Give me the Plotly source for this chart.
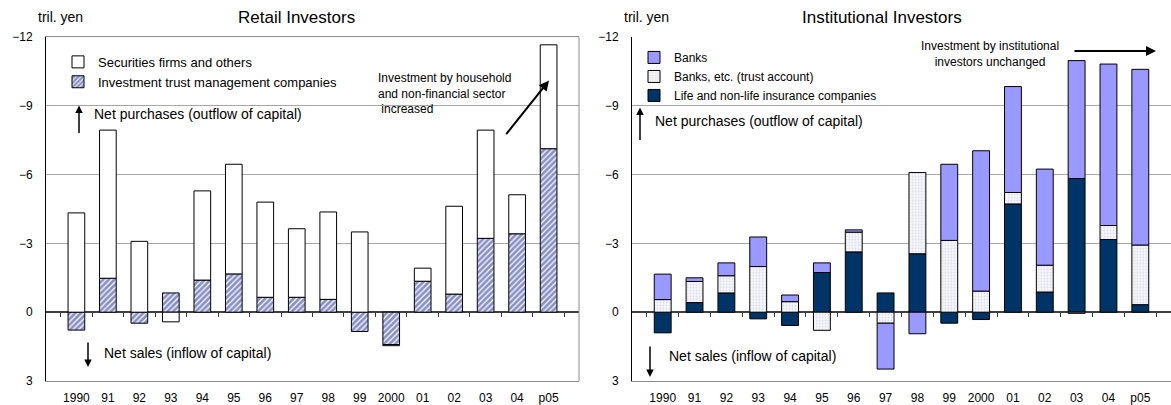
import plotly.graph_objects as go

years = ["1990", "91", "92", "93", "94", "95", "96", "97", "98", "99", "2000", "01", "02", "03", "04", "p05"]

# Retail investors (tril. yen; negative = net purchases)
trust_mgmt = [0.78, -1.48, 0.48, -0.84, -1.40, -1.67, -0.65, -0.65, -0.56, 0.84, 1.41, -1.35, -0.79, -3.22, -3.42, -7.13]
securities = [-4.33, -6.46, -3.09, 0.42, -3.89, -4.78, -4.15, -2.99, -3.81, -3.50, 0.05, -0.57, -3.83, -4.72, -1.70, -4.53]

# Institutional investors
insurance = [0.90, -0.42, -0.84, 0.29, 0.58, -1.73, -2.63, -0.84, -2.55, 0.48, 0.32, -4.72, -0.88, -5.83, -3.17, -0.33]
trust_acct = [-0.55, -0.92, -0.75, -1.99, -0.46, 0.79, -0.86, 0.48, -3.54, -3.13, -0.92, -0.50, -1.17, 0.05, -0.61, -2.60]
banks = [-1.11, -0.16, -0.56, -1.29, -0.29, -0.42, -0.10, 2.00, 0.94, -3.32, -6.12, -4.62, -4.19, -5.14, -7.04, -7.66]

y_ticks = [-12, -9, -6, -3, 0, 3]

W, H = 1171, 405
MT, MB = 37, 21
PH = H - MT - MB

def px(x):
    return x / W

def py(y):
    return (H - MB - y) / PH

FONT = "Liberation Sans, Arial, sans-serif"
fig = go.Figure()

line = dict(color="black", width=1)

fig.add_trace(go.Bar(x=years, y=trust_mgmt, name="Investment trust management companies",
                     marker=dict(color="white", line=line,
                                 pattern=dict(shape="/", fgcolor="#10208c", bgcolor="white", size=4, solidity=0.7)),
                     xaxis="x", yaxis="y", legend="legend"))
fig.add_trace(go.Bar(x=years, y=securities, name="Securities firms and others",
                     marker=dict(color="white", line=line), xaxis="x", yaxis="y", legend="legend"))

fig.add_trace(go.Bar(x=years, y=insurance, name="Life and non-life insurance companies",
                     marker=dict(color="#003366", line=line), xaxis="x2", yaxis="y2", legend="legend2"))
fig.add_trace(go.Bar(x=years, y=trust_acct, name="Banks, etc. (trust account)",
                     marker=dict(color="#f4f4fa", line=line,
                                 pattern=dict(shape=".", fgcolor="#c4c4d8", bgcolor="#f6f6fb", size=3, solidity=0.3)),
                     xaxis="x2", yaxis="y2", legend="legend2"))
fig.add_trace(go.Bar(x=years, y=banks, name="Banks",
                     marker=dict(color="#9999ff", line=line), xaxis="x2", yaxis="y2", legend="legend2"))

# invisible helper traces for zero-line tick axes
fig.add_trace(go.Scatter(x=years, y=[None] * len(years), xaxis="x3", yaxis="y", showlegend=False, hoverinfo="skip"))
fig.add_trace(go.Scatter(x=years, y=[None] * len(years), xaxis="x4", yaxis="y2", showlegend=False, hoverinfo="skip"))

xl = [px(46), px(579)]
xr = [px(632), 1.0]

xcommon = dict(type="category", showgrid=False, ticks="", showline=True, linecolor="#8c8c8c", linewidth=1,
               tickfont=dict(family=FONT, size=12, color="black"), fixedrange=True, ticklabelstandoff=6)
ycommon = dict(range=[3, -12], tickvals=y_ticks, showgrid=True, gridcolor="#a6a6a6", gridwidth=1,
               zeroline=True, zerolinecolor="#404040", zerolinewidth=1.5, showline=True, linecolor="black",
               linewidth=1, ticks="", ticklabelstandoff=10, tickfont=dict(family=FONT, size=12, color="black"),
               domain=[0, 1], automargin=False, fixedrange=True)
zero_pos = (0 - 3) / (-12 - 3)
tickax = dict(type="category", tickson="boundaries", ticks="outside", ticklen=4, tickcolor="#333333", tickwidth=1,
              showticklabels=False, showline=False, showgrid=False, zeroline=False, anchor="free", position=zero_pos)

fig.update_layout(
    width=W, height=H,
    margin=dict(l=0, r=0, t=MT, b=MB),
    paper_bgcolor="white", plot_bgcolor="white",
    barmode="relative", bargap=0.47,
    font=dict(family=FONT, color="black"),
    xaxis=dict(domain=xl, anchor="y", mirror=True, **xcommon),
    yaxis=dict(anchor="x", **ycommon),
    xaxis2=dict(domain=xr, anchor="y2", **xcommon),
    yaxis2=dict(anchor="x2", **ycommon),
    xaxis3=dict(overlaying="x", matches="x", domain=xl, **tickax),
    xaxis4=dict(overlaying="x2", matches="x2", domain=xr, **tickax),
    legend=dict(x=px(58), y=py(47), xanchor="left", yanchor="top", traceorder="reversed",
                bgcolor="rgba(0,0,0,0)", font=dict(family=FONT, size=13), tracegroupgap=0, itemwidth=30),
    legend2=dict(x=px(634), y=py(43), xanchor="left", yanchor="top", traceorder="reversed",
                 bgcolor="rgba(0,0,0,0)", font=dict(family=FONT, size=12), tracegroupgap=0, itemwidth=30),
    showlegend=True,
)

# right border of left panel
fig.add_shape(type="line", xref="x domain", yref="y domain", x0=1, x1=1, y0=0, y1=1,
              line=dict(color="#8c8c8c", width=1))

def text(x, y, s, size=14, xanchor="left", align="left"):
    fig.add_annotation(x=px(x), y=py(y), xref="paper", yref="paper", text=s, showarrow=False,
                       xanchor=xanchor, yanchor="middle", align=align,
                       font=dict(family=FONT, size=size, color="black"))

def arrow(x0, y0, x1, y1, width=1.5):
    fig.add_annotation(x=px(x1), y=py(y1), xref="paper", yref="paper", ax=x0 - x1, ay=y0 - y1,
                       axref="pixel", ayref="pixel", text="", showarrow=True, arrowhead=2,
                       arrowsize=1, arrowwidth=width, arrowcolor="black")

# titles and units
text(296, 17, "Retail Investors", size=17, xanchor="center")
text(882, 17, "Institutional Investors", size=17, xanchor="center")
text(36, 17, "tril. yen", size=14)
text(622, 17, "tril. yen", size=14)

# left panel notes
text(92, 115, "Net purchases (outflow of capital)", size=14)
arrow(79, 135, 79, 106)
text(102, 356, "Net sales (inflow of capital)", size=14)
arrow(88, 344, 88, 370)
text(376, 94, "Investment by household<br>and non-financial sector<br> increased", size=12)
arrow(505, 136, 549, 81, width=2)

# right panel notes
text(653, 122, "Net purchases (outflow of capital)", size=14)
arrow(640, 142, 640, 108)
text(667, 359, "Net sales (inflow of capital)", size=14)
arrow(650, 348, 650, 380)
text(990, 54, "Investment by institutional<br>investors unchanged", size=12, xanchor="center", align="center")
arrow(1073, 51, 1156, 51, width=2)

fig.write_html("out.html", config={"displayModeBar": False},
               post_script="document.body.style.margin='0';document.body.style.overflow='hidden';")
